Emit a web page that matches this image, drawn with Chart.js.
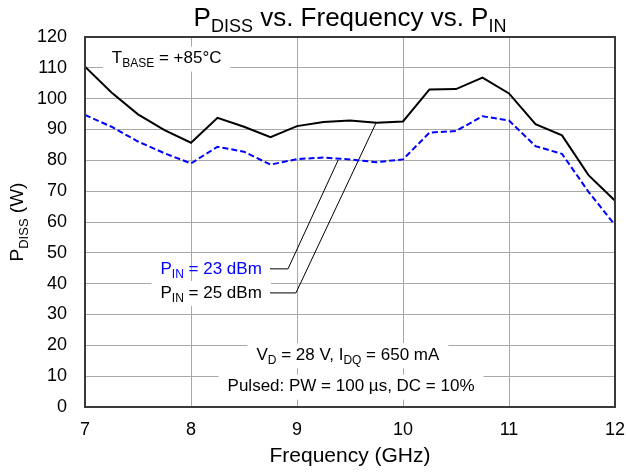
<!DOCTYPE html>
<html>
<head>
<meta charset="utf-8">
<script src="https://cdn.jsdelivr.net/npm/chart.js@4"></script>
<style>
html,body{margin:0;padding:0;background:#fff;}
canvas{display:block;}
</style>
</head>
<body>
<canvas id="c" width="626" height="472"></canvas>
<script>
// ---- data ----
const freqGHz = [7,7.25,7.5,7.75,8,8.25,8.5,8.75,9,9.25,9.5,9.75,10,10.25,10.5,10.75,11,11.25,11.5,11.75,12];
const pdissPin25 = [110.4,102.0,94.9,89.8,85.7,93.8,90.9,87.5,91.1,92.4,92.9,92.2,92.6,103.0,103.1,106.8,101.7,91.7,88.1,75.2,66.9];
const pdissPin23 = [94.7,90.9,86.1,82.3,79.0,84.4,82.8,78.6,80.4,80.9,80.3,79.4,80.3,89.0,89.5,94.3,92.9,84.6,82.1,69.8,59.0];
const xTicks = [7,8,9,10,11,12];
const yTicks = [0,10,20,30,40,50,60,70,80,90,100,110,120];

const FONT = "'Liberation Sans', Arial, Helvetica, sans-serif";

function toPts(xs, ys){ return xs.map((x,i)=>({x:x, y:ys[i]})); }

// rich text with subscripts: segs = [[text, isSub], ...]
function measureRich(ctx, segs, size){
  let w = 0;
  for (const [t, sub] of segs){
    ctx.font = (sub ? Math.round(size*0.68) : size) + 'px ' + FONT;
    w += ctx.measureText(t).width;
  }
  return w;
}
function drawRich(ctx, segs, x, y, size, color, align){
  const w = measureRich(ctx, segs, size);
  let cx = align === 'left' ? x : (align === 'right' ? x - w : x - w/2);
  ctx.fillStyle = color;
  ctx.textBaseline = 'middle';
  ctx.textAlign = 'left';
  for (const [t, sub] of segs){
    const s = sub ? Math.round(size*0.68) : size;
    ctx.font = s + 'px ' + FONT;
    ctx.fillText(t, cx, sub ? y + size*0.32 : y);
    cx += ctx.measureText(t).width;
  }
  return w;
}

// annotations in data units
const notes = [
  {segs:[['T',0],['BASE',1],[' = +85°C',0]], x:7.77, y:113.0, color:'#000', box:true},
  {segs:[['P',0],['IN',1],[' = 23 dBm',0]], x:8.19, y:44.8, color:'#0000ff', box:false},
  {segs:[['P',0],['IN',1],[' = 25 dBm',0]], x:8.19, y:37.0, color:'#000', box:true},
  {segs:[['V',0],['D',1],[' = 28 V, I',0],['DQ',1],[' = 650 mA',0]], x:9.48, y:16.8, color:'#000', box:true},
  {segs:[['Pulsed: PW = 100 µs, DC = 10%',0]], x:9.51, y:6.6, color:'#000', box:true}
];
const leaders = [
  [[8.745,44.8],[8.915,44.8],[9.39,80.2]],
  [[8.745,37.0],[8.99,37.0],[9.745,92.1]]
];

const annotPlugin = {
  id:'annot',
  beforeDatasetsDraw(chart){
    const ctx = chart.ctx, xs = chart.scales.x, ys = chart.scales.y;
    ctx.save();
    for (const n of notes){
      const px = xs.getPixelForValue(n.x), py = ys.getPixelForValue(n.y);
      const w = measureRich(ctx, n.segs, 17);
      if (n.box){
        ctx.fillStyle = '#fff';
        ctx.fillRect(px - w/2 - 9, py - 12, w + 18, 25);
      }
    }
    for (const n of notes){
      const px = xs.getPixelForValue(n.x), py = ys.getPixelForValue(n.y);
      drawRich(ctx, n.segs, px, py, 17, n.color, 'center');
    }
    ctx.strokeStyle = '#000';
    ctx.lineWidth = 1;
    for (const L of leaders){
      ctx.beginPath();
      L.forEach((p,i)=>{
        const px = xs.getPixelForValue(p[0]), py = ys.getPixelForValue(p[1]);
        if (i===0) ctx.moveTo(px,py); else ctx.lineTo(px,py);
      });
      ctx.stroke();
    }
    ctx.restore();
  },
  afterDatasetsDraw(chart){
    const ctx = chart.ctx, a = chart.chartArea;
    ctx.save();
    ctx.strokeStyle = '#3a3a3a';
    ctx.lineWidth = 2;
    ctx.strokeRect(a.left, a.top, a.right - a.left, a.bottom - a.top);
    // title
    drawRich(ctx, [['P',0],['DISS',1],[' vs. Frequency vs. P',0],['IN',1]], (a.left+a.right)/2, 19, 26, '#000', 'center');
    // x title
    ctx.font = '21px ' + FONT;
    ctx.fillStyle = '#000';
    ctx.textAlign = 'center';
    ctx.textBaseline = 'middle';
    ctx.fillText('Frequency (GHz)', (a.left+a.right)/2, 456);
    // y title
    ctx.translate(18, (a.top+a.bottom)/2);
    ctx.rotate(-Math.PI/2);
    drawRich(ctx, [['P',0],['DISS',1],[' (W)',0]], 0, 0, 19, '#000', 'center');
    ctx.restore();
  }
};

new Chart(document.getElementById('c'), {
  type:'line',
  data:{
    datasets:[
      {label:'PIN = 25 dBm', data:toPts(freqGHz, pdissPin25), borderColor:'#000', borderWidth:2, pointRadius:0, tension:0, fill:false},
      {label:'PIN = 23 dBm', data:toPts(freqGHz, pdissPin23), borderColor:'#0000ff', borderWidth:2, borderDash:[6,3], pointRadius:0, tension:0, fill:false}
    ]
  },
  options:{
    responsive:false,
    animation:false,
    devicePixelRatio:1,
    layout:{padding:{top:37, right:11, left:0, bottom:0}},
    plugins:{legend:{display:false}, title:{display:false}, tooltip:{enabled:false}},
    scales:{
      x:{
        type:'linear', min:7, max:12,
        afterBuildTicks(s){ s.ticks = xTicks.map(v=>({value:v})); },
        afterFit(s){ s.height = 65; s.paddingLeft = 0; s.paddingRight = 0; },
        grid:{color:'#a8a8a8', lineWidth:1, drawTicks:false},
        border:{display:false},
        ticks:{color:'#000', font:{family:FONT, size:18}, padding:12, maxRotation:0}
      },
      y:{
        type:'linear', min:0, max:120,
        afterBuildTicks(s){ s.ticks = yTicks.map(v=>({value:v})); },
        afterFit(s){ s.width = 85; s.paddingTop = 0; s.paddingBottom = 0; },
        grid:{color:'#a8a8a8', lineWidth:1, drawTicks:false},
        border:{display:false},
        ticks:{color:'#000', font:{family:FONT, size:18}, padding:18}
      }
    }
  },
  plugins:[annotPlugin]
});
</script>
</body>
</html>
